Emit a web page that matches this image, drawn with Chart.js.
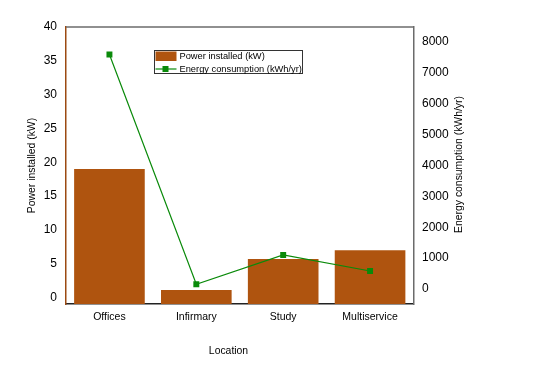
<!DOCTYPE html>
<html>
<head>
<meta charset="utf-8">
<script src="https://cdn.jsdelivr.net/npm/chart.js@4"></script>
<style>
    html, body { margin: 0; padding: 0; background: #fff; }
    #wrap { width: 534px; height: 370px; }
</style>
</head>
<body>
<div id="wrap"><canvas id="chart" width="534" height="370"></canvas></div>
<script>
(function () {
    'use strict';

    // data
    const locations = ['Offices', 'Infirmary', 'Study', 'Multiservice'];
    const powerInstalled = [19, 1.1, 5.7, 7.0];
    const energyConsumption = [7600, 150, 1100, 580];

    const leftTicks = [0, 5, 10, 15, 20, 25, 30, 35, 40];
    const rightTicks = [0, 1000, 2000, 3000, 4000, 5000, 6000, 7000, 8000];

    const LEFT_MIN = -0.96, LEFT_MAX = 40;
    const RIGHT_MIN = -490, RIGHT_MAX = 8490;

    const BAR_COLOR = '#AF540F';
    const LINE_COLOR = '#0A8A0A';
    const FONT = 'Liberation Sans, Arial, sans-serif';

    function fixedTicks(values) {
        return function (scale) {
            scale.ticks = values.map(function (v) { return { value: v }; });
        };
    }

    function plainLabel(value) {
        return String(value);
    }

    // axis titles + legend drawn by hand so they sit where the original has them
    const decorations = {
        id: 'decorations',
        afterDraw: function (chart) {
            const ctx = chart.ctx;
            const area = chart.chartArea;
            ctx.save();

            // top border of the frame
            ctx.strokeStyle = '#6b6b6b';
            ctx.lineWidth = 1.5;
            ctx.beginPath();
            ctx.moveTo(area.left, area.top);
            ctx.lineTo(area.right, area.top);
            ctx.stroke();

            ctx.fillStyle = '#000';
            ctx.font = '10.4px ' + FONT;
            ctx.textAlign = 'center';
            ctx.textBaseline = 'middle';

            ctx.save();
            ctx.translate(32.5, 165.5);
            ctx.rotate(-Math.PI / 2);
            ctx.fillText('Power installed (kW)', 0, 0);
            ctx.restore();

            ctx.save();
            ctx.translate(459, 164.5);
            ctx.rotate(-Math.PI / 2);
            ctx.fillText('Energy consumption (kWh/yr)', 0, 0);
            ctx.restore();

            ctx.fillText('Location', 228.5, 351);

            // legend
            ctx.fillStyle = '#fff';
            ctx.fillRect(154.5, 50.5, 148, 23);
            ctx.strokeStyle = '#333';
            ctx.lineWidth = 1;
            ctx.strokeRect(154.5, 50.5, 148, 23);

            ctx.fillStyle = BAR_COLOR;
            ctx.fillRect(155.5, 51.5, 21, 9.5);

            ctx.strokeStyle = LINE_COLOR;
            ctx.lineWidth = 1.2;
            ctx.beginPath();
            ctx.moveTo(155.5, 69);
            ctx.lineTo(176.5, 69);
            ctx.stroke();
            ctx.fillStyle = LINE_COLOR;
            ctx.fillRect(162.5, 66, 6, 6);

            ctx.fillStyle = '#000';
            ctx.font = '9.3px ' + FONT;
            ctx.textAlign = 'left';
            ctx.fillText('Power installed (kW)', 179.5, 56);
            ctx.fillText('Energy consumption (kWh/yr)', 179.5, 69);

            ctx.restore();
        }
    };

    document.addEventListener('DOMContentLoaded', function () {
        const canvas = document.getElementById('chart');

        new Chart(canvas, {
            data: {
                labels: locations,
                datasets: [
                    {
                        type: 'line',
                        label: 'Energy consumption (kWh/yr)',
                        data: energyConsumption,
                        yAxisID: 'y1',
                        order: 0,
                        borderColor: LINE_COLOR,
                        backgroundColor: LINE_COLOR,
                        borderWidth: 1.2,
                        pointStyle: 'rect',
                        pointRadius: 4.2,
                        pointBorderWidth: 0,
                        tension: 0
                    },
                    {
                        type: 'bar',
                        label: 'Power installed (kW)',
                        data: powerInstalled,
                        yAxisID: 'y',
                        order: 1,
                        base: LEFT_MIN,
                        backgroundColor: BAR_COLOR,
                        borderWidth: 0,
                        barPercentage: 0.813,
                        categoryPercentage: 1
                    }
                ]
            },
            options: {
                responsive: false,
                animation: false,
                layout: { padding: { top: 27, left: 0, right: 0, bottom: 0 } },
                plugins: {
                    legend: { display: false },
                    tooltip: { enabled: false }
                },
                scales: {
                    x: {
                        grid: { display: false, drawTicks: false },
                        border: { color: '#222', width: 1.5 },
                        ticks: {
                            color: '#000',
                            padding: 7,
                            font: { family: FONT, size: 10.5 }
                        },
                        afterFit: function (scale) { scale.height = 66; }
                    },
                    y: {
                        position: 'left',
                        min: LEFT_MIN,
                        max: LEFT_MAX,
                        grid: { display: false, drawTicks: false },
                        border: { color: '#9c4a12', width: 1.5 },
                        ticks: {
                            color: '#000',
                            padding: 9,
                            font: { family: FONT, size: 12 },
                            callback: plainLabel
                        },
                        afterBuildTicks: fixedTicks(leftTicks),
                        afterFit: function (scale) { scale.width = 66; }
                    },
                    y1: {
                        position: 'right',
                        min: RIGHT_MIN,
                        max: RIGHT_MAX,
                        grid: { display: false, drawTicks: false },
                        border: { color: '#6b6b6b', width: 1.5 },
                        ticks: {
                            color: '#000',
                            padding: 8.5,
                            font: { family: FONT, size: 12 },
                            callback: plainLabel
                        },
                        afterBuildTicks: fixedTicks(rightTicks),
                        afterFit: function (scale) { scale.width = 120.5; }
                    }
                }
            },
            plugins: [decorations]
        });
    });
})();
</script>
</body>
</html>
